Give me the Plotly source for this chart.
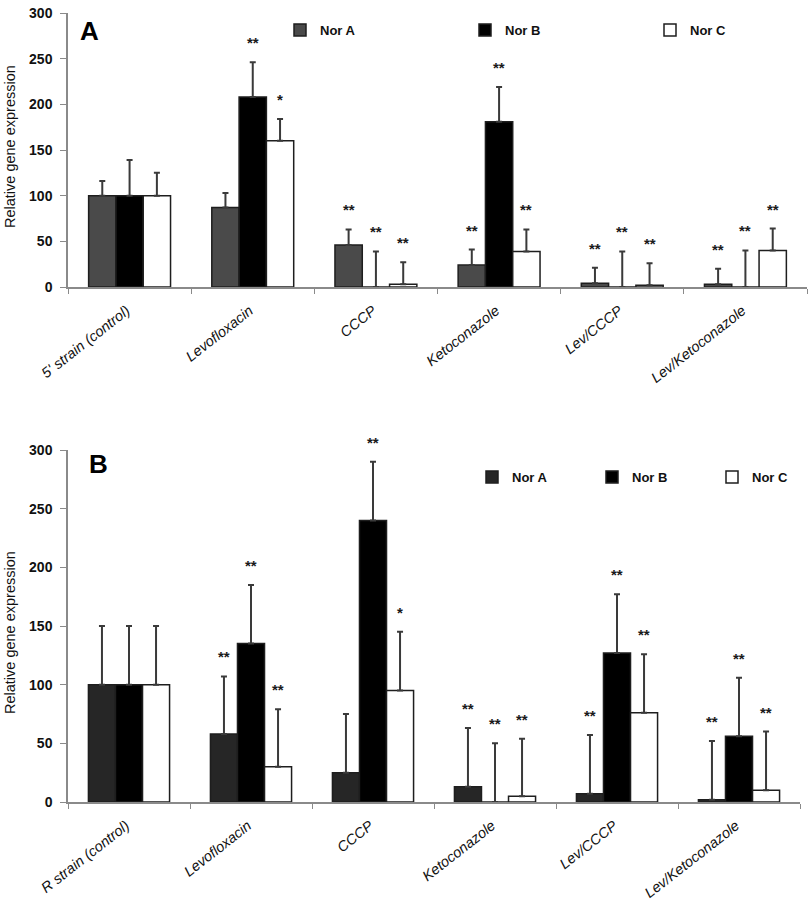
import plotly.graph_objects as go

# ---------------- data ----------------
categories_A = ["5' strain (control)", "Levofloxacin", "CCCP", "Ketoconazole", "Lev/CCCP", "Lev/Ketoconazole"]
categories_B = ["R strain (control)", "Levofloxacin", "CCCP", "Ketoconazole", "Lev/CCCP", "Lev/Ketoconazole"]
series_names = ["Nor A", "Nor B", "Nor C"]

norA_A = [100, 87, 46, 24, 4, 3]
norB_A = [100, 208, 0, 181, 0, 0]
norC_A = [100, 160, 3, 39, 2, 40]
errA_A = [16, 16, 17, 17, 17, 17]
errB_A = [39, 38, 39, 38, 39, 40]
errC_A = [25, 24, 24, 24, 24, 24]
sigA_A = ["", "", "**", "**", "**", "**"]
sigB_A = ["", "**", "**", "**", "**", "**"]
sigC_A = ["", "*", "**", "**", "**", "**"]

norA_B = [100, 58, 25, 13, 7, 2]
norB_B = [100, 135, 240, 0, 127, 56]
norC_B = [100, 30, 95, 5, 76, 10]
errA_B = [50, 49, 50, 50, 50, 50]
errB_B = [50, 50, 50, 50, 50, 50]
errC_B = [50, 49, 50, 49, 50, 50]
sigA_B = ["", "**", "", "**", "**", "**"]
sigB_B = ["", "**", "**", "**", "**", "**"]
sigC_B = ["", "**", "*", "**", "**", "**"]

y_ticks = [0, 50, 100, 150, 200, 250, 300]
y_title = "Relative gene expression"

# ---------------- styling ----------------
FONT = "Liberation Sans, Arial, sans-serif"
W, H = 812, 900
ML, MR, MT, MB = 68, 5, 13, 98
PW, PH = W - ML - MR, H - MT - MB
BARGAP = 0.335
fills_A = ["#4a4a4a", "#000000", "#ffffff"]
fills_B = ["#262626", "#000000", "#ffffff"]
AXIS_COLOR = "#8a8a8a"
ERR_COLOR = "#3a3a3a"

# panel pixel boxes (left, right, top, bottom) in page pixels
boxA = (68, 807, 13, 287)
boxB = (68, 800, 450, 802)

def px_x(p):
    return (p - ML) / PW

def px_y(p):
    return (H - MB - p) / PH

fig = go.Figure()

def add_panel(cats, vals, errs, fills, xa, ya, legend):
    for name, v, e, c in zip(series_names, vals, errs, fills):
        fig.add_trace(go.Bar(
            x=cats, y=v, name=name, xaxis=xa, yaxis=ya, legend=legend,
            marker=dict(color=c, line=dict(color="#1e1e1e", width=1.5)),
            error_y=dict(type="data", symmetric=False, array=e,
                         arrayminus=[0] * len(e), color=ERR_COLOR,
                         thickness=2, width=3),
        ))

add_panel(categories_A, [norA_A, norB_A, norC_A], [errA_A, errB_A, errC_A], fills_A, "x", "y", "legend")
add_panel(categories_B, [norA_B, norB_B, norC_B], [errA_B, errB_B, errC_B], fills_B, "x2", "y2", "legend2")

annotations = []

def add_stars(cats, vals, errs, sigs, box, xref, yref):
    cat_w = (box[1] - box[0]) / len(cats)
    bar_w = cat_w * (1 - BARGAP) / 3
    for j, (v, e, s) in enumerate(zip(vals, errs, sigs)):
        for i, c in enumerate(cats):
            if not s[i]:
                continue
            annotations.append(dict(
                x=c, y=v[i] + e[i], xref=xref, yref=yref, text=s[i],
                showarrow=False, xshift=(j - 1) * bar_w, yshift=9,
                yanchor="bottom",
                font=dict(family=FONT, size=15, color="#1a1a1a", weight="bold"),
            ))

add_stars(categories_A, [norA_A, norB_A, norC_A], [errA_A, errB_A, errC_A],
          [sigA_A, sigB_A, sigC_A], boxA, "x", "y")
add_stars(categories_B, [norA_B, norB_B, norC_B], [errA_B, errB_B, errC_B],
          [sigA_B, sigB_B, sigC_B], boxB, "x2", "y2")

for letter, (lx, ly) in (("A", (89, 31)), ("B", (98, 464))):
    annotations.append(dict(x=px_x(lx), y=px_y(ly), xref="paper", yref="paper", text=letter,
                            showarrow=False, xanchor="center", yanchor="middle",
                            font=dict(family=FONT, size=26, color="#000", weight="bold")))

for (tx, ty) in ((10, 147), (10, 633)):
    annotations.append(dict(x=px_x(tx), y=px_y(ty), xref="paper", yref="paper", text=y_title,
                            showarrow=False, textangle=-90, xanchor="center", yanchor="middle",
                            font=dict(family=FONT, size=14.5, color="#111")))

def xaxis_cfg(box):
    return dict(
        domain=[px_x(box[0]), px_x(box[1])], type="category", automargin=False,
        showline=True, linecolor=AXIS_COLOR, linewidth=1.5,
        ticks="outside", tickson="boundaries", ticklen=5, tickcolor=AXIS_COLOR,
        tickangle=-38, showgrid=False, zeroline=False,
        ticklabelstandoff=8, ticklabelshift=-3,
        tickfont=dict(family=FONT, size=14.5, color="#111", style="italic"),
    )

def yaxis_cfg(box, anchor):
    return dict(
        domain=[px_y(box[3]), px_y(box[2])], range=[0, 300], automargin=False,
        tickvals=y_ticks, anchor=anchor,
        showline=True, linecolor=AXIS_COLOR, linewidth=1.5,
        ticks="outside", ticklen=6, tickcolor=AXIS_COLOR, ticklabelstandoff=5,
        showgrid=False, zeroline=False,
        tickfont=dict(family=FONT, size=14, color="#111", weight="bold"),
    )

fig.update_layout(
    width=W, height=H,
    margin=dict(l=ML, r=MR, t=MT, b=MB, autoexpand=False),
    paper_bgcolor="white", plot_bgcolor="white",
    barmode="group", bargap=BARGAP, bargroupgap=0,
    font=dict(family=FONT, color="#111"),
    xaxis=dict(anchor="y", **xaxis_cfg(boxA)),
    yaxis=yaxis_cfg(boxA, "x"),
    xaxis2=dict(anchor="y2", **xaxis_cfg(boxB)),
    yaxis2=yaxis_cfg(boxB, "x2"),
    legend=dict(orientation="h", x=px_x(280), y=px_y(30), xanchor="left", yanchor="middle",
                entrywidth=140, entrywidthmode="pixels",
                font=dict(family=FONT, size=13, color="#111", weight="bold"),
                bgcolor="rgba(0,0,0,0)"),
    legend2=dict(orientation="h", x=px_x(472), y=px_y(477), xanchor="left", yanchor="middle",
                 entrywidth=75, entrywidthmode="pixels",
                 font=dict(family=FONT, size=13, color="#111", weight="bold"),
                 bgcolor="rgba(0,0,0,0)"),
    annotations=annotations,
)

# remove the browser's default 8px body margin so the figure sits at the page origin
fig.write_html("out.html", config={"displayModeBar": False},
               post_script="document.body.style.margin='0px';")
